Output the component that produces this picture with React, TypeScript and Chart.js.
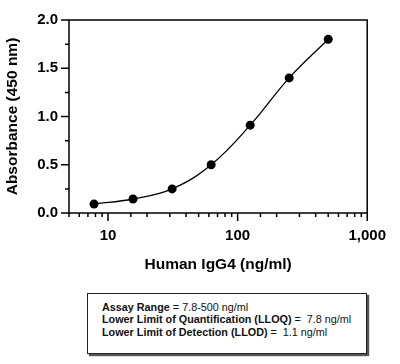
import React, { useEffect, useRef } from "react";
import { Chart, registerables } from "chart.js";

Chart.register(...registerables);

const concentrations = [7.8, 15.6, 31.25, 62.5, 125, 250, 500];
const absorbance = [0.092, 0.145, 0.25, 0.5, 0.91, 1.4, 1.8];
const xMin = 5;
const xMax = 1000;
const yMin = 0;
const yMax = 2;
const xLabelValues = [10, 100, 1000];
const xTitle = "Human IgG4 (ng/ml)";
const yTitle = "Absorbance (450 nm)";

const FONT = "'Liberation Sans', Arial, Helvetica, sans-serif";

const framePlugin = {
  id: "frameTicks",
  afterDraw(chart: any) {
    const { ctx, chartArea } = chart;
    const xs = chart.scales.x;
    const ys = chart.scales.y;
    ctx.save();
    ctx.strokeStyle = "#000";
    ctx.lineWidth = 1.5;
    ctx.strokeRect(chartArea.left, chartArea.top, chartArea.right - chartArea.left, chartArea.bottom - chartArea.top);
    ctx.beginPath();
    for (const t of xs.ticks) {
      const px = xs.getPixelForValue(t.value);
      const lg = Math.log10(t.value);
      const major = Math.abs(lg - Math.round(lg)) < 1e-9;
      const len = major ? 8 : 4;
      ctx.moveTo(px, chartArea.bottom);
      ctx.lineTo(px, chartArea.bottom + len);
    }
    for (const t of ys.ticks) {
      const py = ys.getPixelForValue(t.value);
      const major = Math.abs(t.value / 0.5 - Math.round(t.value / 0.5)) < 1e-9;
      const len = major ? 8 : 4;
      ctx.moveTo(chartArea.left, py);
      ctx.lineTo(chartArea.left - len, py);
    }
    ctx.stroke();
    ctx.restore();
  },
};

export default function App() {
  const ref = useRef<HTMLCanvasElement>(null);
  useEffect(() => {
    if (!ref.current) return;
    const chart = new Chart(ref.current, {
      type: "line",
      data: {
        datasets: [
          {
            data: concentrations.map((c, i) => ({ x: c, y: absorbance[i] })),
            borderColor: "#000",
            backgroundColor: "#000",
            borderWidth: 1.3,
            pointRadius: 4.5,
            pointBackgroundColor: "#000",
            pointBorderWidth: 0,
            tension: 0.4,
            fill: false,
          },
        ],
      },
      options: {
        animation: false,
        responsive: false,
        events: [],
        layout: { padding: { top: 10, right: 25, left: 0, bottom: 0 } },
        plugins: { legend: { display: false }, tooltip: { enabled: false } },
        scales: {
          x: {
            type: "logarithmic",
            min: xMin,
            max: xMax,
            grid: { display: false, drawTicks: false },
            border: { display: false },
            afterFit: (s: any) => {
              s.height = 77;
            },
            ticks: {
              autoSkip: false,
              maxRotation: 0,
              padding: 14,
              color: "#000",
              font: { family: FONT, size: 15, weight: "bold" },
              callback: (v: any) => {
                const n = Number(v);
                return xLabelValues.some((m) => Math.abs(m - n) < 1e-9) ? n.toLocaleString("en-US") : "";
              },
            },
            title: {
              display: true,
              text: xTitle,
              color: "#000",
              font: { family: FONT, size: 15.5, weight: "bold" },
              padding: { top: 0, bottom: 16 },
            },
          },
          y: {
            min: yMin,
            max: yMax,
            grid: { display: false, drawTicks: false },
            border: { display: false },
            afterFit: (s: any) => {
              s.width = 69;
            },
            ticks: {
              stepSize: 0.25,
              autoSkip: false,
              padding: 11,
              color: "#000",
              font: { family: FONT, size: 15, weight: "bold" },
              callback: (v: any) => {
                const n = Number(v);
                return Math.abs(n / 0.5 - Math.round(n / 0.5)) < 1e-9 ? n.toFixed(1) : "";
              },
            },
            title: {
              display: true,
              text: yTitle,
              color: "#000",
              font: { family: FONT, size: 15.5, weight: "bold" },
              padding: { top: 3, bottom: 0 },
            },
          },
        },
      },
      plugins: [framePlugin],
    } as any);
    return () => chart.destroy();
  }, []);

  const lineStyle: React.CSSProperties = { whiteSpace: "pre", height: 12.8, lineHeight: "12.8px" };
  return (
    <div style={{ position: "fixed", left: 0, top: 0, width: 400, height: 364, background: "#fff" }}>
      <canvas ref={ref} width={400} height={290} style={{ display: "block", width: 400, height: 290 }} />
      <div
        style={{
          position: "absolute",
          left: 87,
          top: 293,
          width: 280,
          height: 61,
          boxSizing: "border-box",
          border: "1px solid #222",
          boxShadow: "2px 2px 1px #555",
          paddingLeft: 14,
          paddingTop: 6.6,
          fontFamily: FONT,
          fontSize: 10.8,
          color: "#111",
        }}
      >
        <div style={lineStyle}>
          <b>Assay Range</b> = 7.8-500 ng/ml
        </div>
        <div style={lineStyle}>
          <b>Lower Limit of Quantification (LLOQ)</b> =  7.8 ng/ml
        </div>
        <div style={lineStyle}>
          <b>Lower Limit of Detection (LLOD)</b> =  1.1 ng/ml
        </div>
      </div>
    </div>
  );
}
